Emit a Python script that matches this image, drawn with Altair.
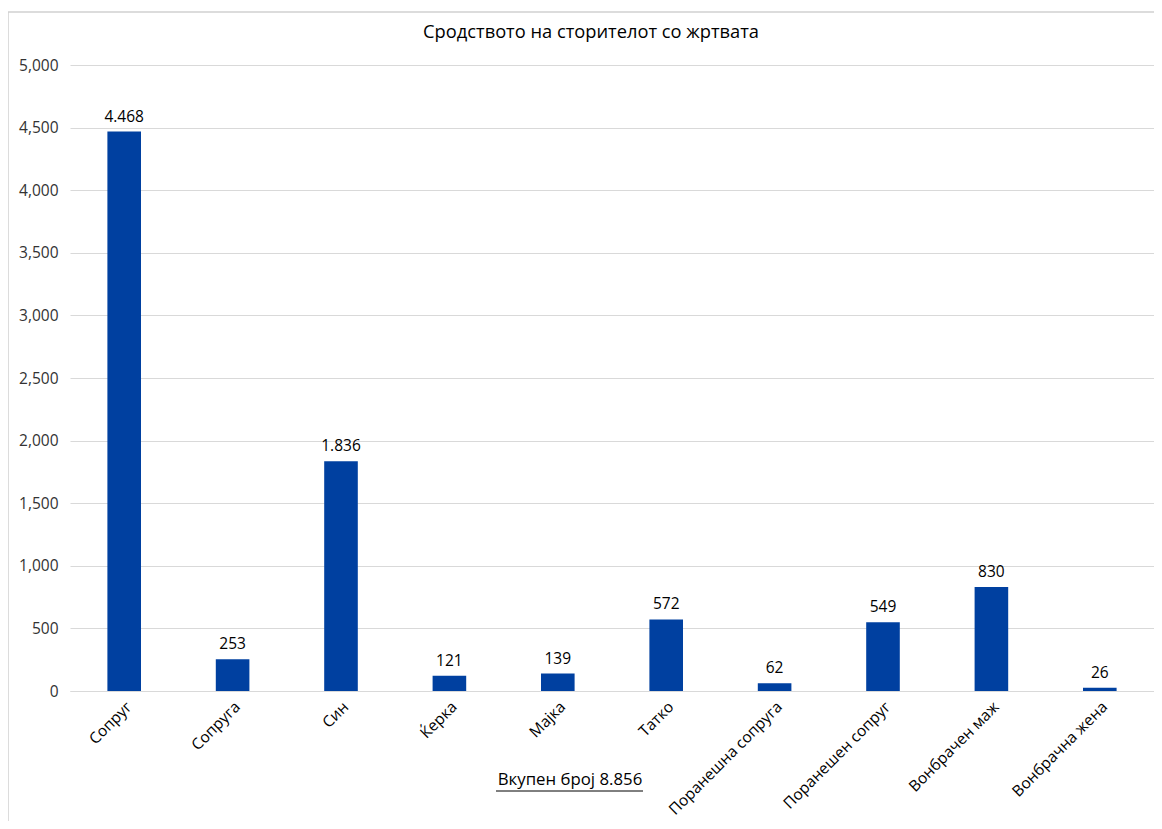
import altair as alt
import pandas as pd

categories = ["Сопруг", "Сопруга", "Син", "Ќерка", "Мајка", "Татко",
              "Поранешна сопруга", "Поранешен сопруг", "Вонбрачен маж", "Вонбрачна жена"]
values = [4468, 253, 1836, 121, 139, 572, 62, 549, 830, 26]
y_ticks = [0, 500, 1000, 1500, 2000, 2500, 3000, 3500, 4000, 4500, 5000]

title_text = "Сродството на сторителот со жртвата"
total_text = "Вкупен број 8.856"

df = pd.DataFrame({
    "cat": categories,
    "val": values,
    "label": [f"{v:,}".replace(",", ".") for v in values],
})

FONT = "Open Sans"
W, H = 1084, 626
BLUE = "#0040A0"

x_enc = alt.X("cat:N", sort=categories,
              scale=alt.Scale(paddingInner=0.69, paddingOuter=0.345),
              axis=alt.Axis(title=None, labelAngle=-45, labelAlign="right",
                            labelBaseline="top", labelPadding=8, ticks=False,
                            domain=True, domainColor="#d9d9d9",
                            labelFont=FONT, labelFontSize=15.5, labelColor="#000000"))
y_enc = alt.Y("val:Q", scale=alt.Scale(domain=[0, 5000], nice=False),
              axis=alt.Axis(title=None, values=y_ticks, format=",d", ticks=False,
                            domain=False, gridColor="#d9d9d9", labelPadding=12,
                            labelFont=FONT, labelFontSize=15.5, labelColor="#333333"))

base = alt.Chart(df)
bars = base.mark_bar(color=BLUE).encode(x=x_enc, y=y_enc)
labels = base.mark_text(dy=-7, baseline="bottom", font=FONT, fontSize=15.5,
                        color="#000000").encode(
    x=alt.X("cat:N", sort=categories), y="val:Q", text="label:N")

ann = pd.DataFrame({"t": [title_text]})
title = alt.Chart(ann).mark_text(font=FONT, fontSize=18.3, color="#000000",
                                 baseline="middle", align="center").encode(
    x=alt.value(521), y=alt.value(-32), text="t:N")

tot = pd.DataFrame({"t": [total_text]})
total = alt.Chart(tot).mark_text(font=FONT, fontSize=16.8, color="#000000",
                                 baseline="middle", align="center").encode(
    x=alt.value(500), y=alt.value(715), text="t:N")
underline = alt.Chart(tot).mark_rule(color="#000000", strokeWidth=1).encode(
    x=alt.value(426), x2=alt.value(573), y=alt.value(726))

border_left = alt.Chart(tot).mark_rule(color="#d0d0d0", strokeWidth=1.5).encode(
    x=alt.value(-62), y=alt.value(-53), y2=alt.value(760))
border_top = alt.Chart(tot).mark_rule(color="#d0d0d0", strokeWidth=1.5).encode(
    x=alt.value(-62), x2=alt.value(W + 10), y=alt.value(-53))

chart = alt.layer(bars, labels, title, total, underline, border_left, border_top).properties(
    width=W, height=H,
    autosize=alt.AutoSizeParams(type="none"),
    padding={"left": 62, "top": 57, "right": 0, "bottom": 130},
).configure_view(stroke=None)

chart.save("out.html", embed_options={"renderer": "svg", "actions": False})
